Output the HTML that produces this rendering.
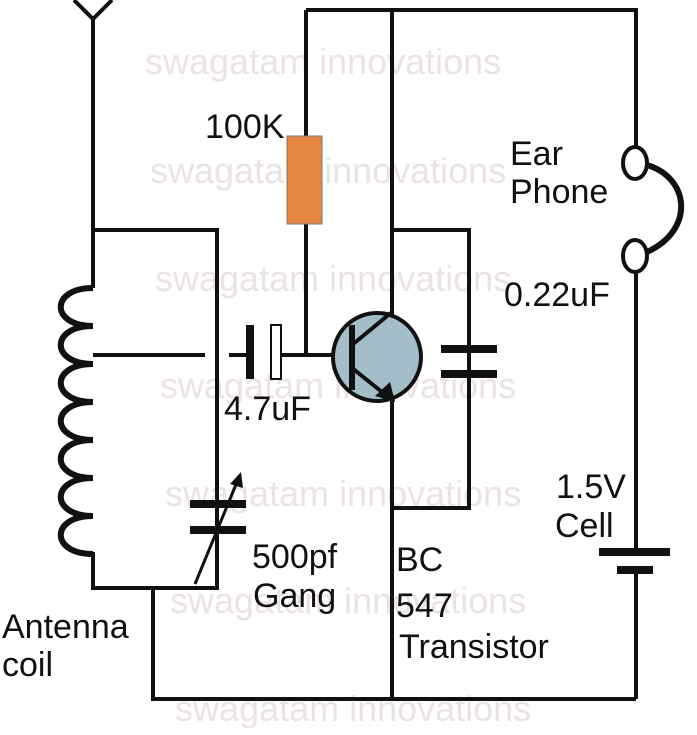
<!DOCTYPE html>
<html><head><style>body{margin:0;background:#fff}</style></head><body>
<svg width="697" height="730" viewBox="0 0 697 730" xmlns="http://www.w3.org/2000/svg" font-family="Liberation Sans, sans-serif">
<g fill="#ebe3e1" font-size="36">
<text x="145" y="74">swagatam innovations</text>
<text x="150" y="183">swagatam innovations</text>
<text x="155" y="291">swagatam innovations</text>
<text x="160" y="398">swagatam innovations</text>
<text x="165" y="506">swagatam innovations</text>
<text x="170" y="613">swagatam innovations</text>
<text x="175" y="721">swagatam innovations</text>
</g>
<g stroke="#111" stroke-width="4" fill="none">
<path d="M74 0 L93 19 L112 0 M93 19 V230"/>
<path d="M93 230 H217 V588 H93 V552 M93 230 V288"/>
<path d="M153 588 V699 H636"/>
<path d="M306 10 H636 V148 M392 10 V699 M306 10 V136 M306 224 V355 H333"/>
<path d="M636 272 V551 M636 572 V699"/>
<path d="M392 230 H469 V508 H392 M469 230 V348 M469 375 V508"/>
<path d="M93 355 H205 M229 355 H246 M282 355 H333"/>
</g>
<g stroke="#111" stroke-width="6" fill="none">
<path d="M93 288 C50 288 50 326 93 326 C50 326 50 364 93 364 C50 364 50 402 93 402 C50 402 50 440 93 440 C50 440 50 478 93 478 C50 478 50 516 93 516 C50 516 50 554 93 554"/>
</g>
<rect x="287" y="136" width="35" height="88" fill="#e58843" stroke="#777" stroke-width="1"/>
<rect x="246" y="325" width="8" height="54" fill="#111"/>
<rect x="271" y="325" width="10" height="54" fill="#fff" stroke="#111" stroke-width="2"/>
<circle cx="377" cy="357" r="44" fill="#a3bec8" stroke="#111" stroke-width="4"/>
<path d="M352 325 V390" stroke="#111" stroke-width="6"/>
<path d="M352 345 L392 312 M352 368 L392 400" stroke="#111" stroke-width="4" fill="none"/>
<path d="M395 402 L375 396 L390 382 Z" fill="#111"/>
<rect x="441" y="345" width="56" height="8" fill="#111"/>
<rect x="441" y="370" width="56" height="8" fill="#111"/>
<rect x="190" y="500" width="56" height="8" fill="#111"/>
<rect x="190" y="526" width="56" height="8" fill="#111"/>
<path d="M195 584 L237 482" stroke="#111" stroke-width="3"/>
<path d="M241 472 L230 484 L243 488 Z" fill="#111"/>
<ellipse cx="635" cy="163" rx="12" ry="16" fill="#fff" stroke="#111" stroke-width="4"/>
<ellipse cx="635" cy="256" rx="12" ry="16" fill="#fff" stroke="#111" stroke-width="4"/>
<path d="M647 165 C690 178 695 230 647 252" stroke="#111" stroke-width="6" fill="none"/>
<rect x="599" y="548" width="71" height="8" fill="#111"/>
<rect x="617" y="566" width="36" height="8" fill="#111"/>
<g fill="#111" font-size="34">
<text x="205" y="138">100K</text>
<text x="510" y="165">Ear</text>
<text x="510" y="203">Phone</text>
<text x="504" y="306">0.22uF</text>
<text x="224" y="420">4.7uF</text>
<text x="556" y="498">1.5V</text>
<text x="555" y="537">Cell</text>
<text x="252" y="568">500pf</text>
<text x="253" y="607">Gang</text>
<text x="396" y="571">BC</text>
<text x="396" y="617">547</text>
<text x="399" y="658">Transistor</text>
<text x="2" y="638">Antenna</text>
<text x="2" y="676">coil</text>
</g>
</svg>
</body></html>
